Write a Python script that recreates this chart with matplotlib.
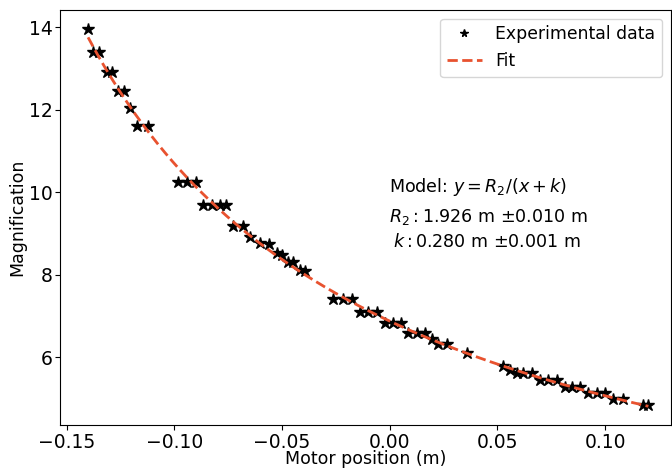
import numpy as np
import matplotlib.pyplot as plt

motor_pos = [
    -0.1400, -0.1376, -0.1348, -0.1314, -0.1288, -0.1260, -0.1232, -0.1206,
    -0.1175, -0.1124, -0.0981, -0.0942, -0.0901, -0.0866, -0.0826, -0.0787,
    -0.0759, -0.0726, -0.0680, -0.0649, -0.0600, -0.0561, -0.0525, -0.0502,
    -0.0471, -0.0448, -0.0417, -0.0394, -0.0262, -0.0218, -0.0176, -0.0138,
    -0.0099, -0.0060, -0.0022, 0.0017, 0.0051, 0.0086, 0.0125, 0.0164,
    0.0195, 0.0226, 0.0265, 0.0357, 0.0527, 0.0559, 0.0590, 0.0620,
    0.0660, 0.0698, 0.0736, 0.0775, 0.0814, 0.0845, 0.0884, 0.0922,
    0.0961, 0.1000, 0.1038, 0.1085, 0.1177, 0.1201,
]
magnification = [
    13.96, 13.39, 13.39, 12.92, 12.92, 12.46, 12.46, 12.04,
    11.61, 11.61, 10.26, 10.26, 10.26, 9.69, 9.69, 9.69,
    9.69, 9.18, 9.18, 8.92, 8.77, 8.75, 8.52, 8.48,
    8.32, 8.30, 8.12, 8.10, 7.41, 7.41, 7.41, 7.11,
    7.11, 7.11, 6.84, 6.84, 6.84, 6.58, 6.58, 6.58,
    6.44, 6.33, 6.33, 6.10, 5.80, 5.69, 5.63, 5.63,
    5.63, 5.45, 5.45, 5.45, 5.29, 5.29, 5.29, 5.14,
    5.14, 5.14, 4.98, 4.98, 4.84, 4.84,
]

# Fit parameters: y = R2 / (x + k)
R2, R2_err = 1.926, 0.010
k, k_err = 0.280, 0.001

fit_color = "#e8522f"
fs = 13.5

fig = plt.figure(figsize=(6.72, 4.69), dpi=100)
ax = fig.add_axes([0.0897, 0.0938, 0.9088, 0.8849])

x_fit = np.linspace(min(motor_pos), max(motor_pos), 300)
ax.plot(motor_pos, magnification, "*", color="black", markersize=9,
        linestyle="none", label="Experimental data", zorder=2)
ax.plot(x_fit, R2 / (x_fit + k), "--", color=fit_color, linewidth=2,
        label="Fit", zorder=3)

ax.set_xlim(-0.1529, 0.1306)
ax.set_ylim(4.36, 14.42)
ax.set_xticks([-0.15, -0.10, -0.05, 0.00, 0.05, 0.10])
ax.set_yticks([6, 8, 10, 12, 14])
ax.tick_params(labelsize=fs, pad=2)
ax.set_xlabel("Motor position (m)", fontsize=12.5, labelpad=-1)
ax.set_ylabel("Magnification", fontsize=12.5, labelpad=2)

ax.text(0.538, 0.573, r"Model: $y = R_2/(x + k)$", transform=ax.transAxes,
        fontsize=12.6, va="center", ha="left")
ax.text(0.538, 0.501, rf"$R_2: {R2:.3f}$ m $\pm{R2_err:.3f}$ m",
        transform=ax.transAxes, fontsize=12.6, va="center", ha="left")
ax.text(0.545, 0.441, rf"$k: {k:.3f}$ m $\pm{k_err:.3f}$ m",
        transform=ax.transAxes, fontsize=12.6, va="center", ha="left")

ax.legend(loc="upper right", fontsize=12.4, markerscale=0.6,
          borderaxespad=0.5, handlelength=2.0)

fig.savefig("out.png", dpi=100)
